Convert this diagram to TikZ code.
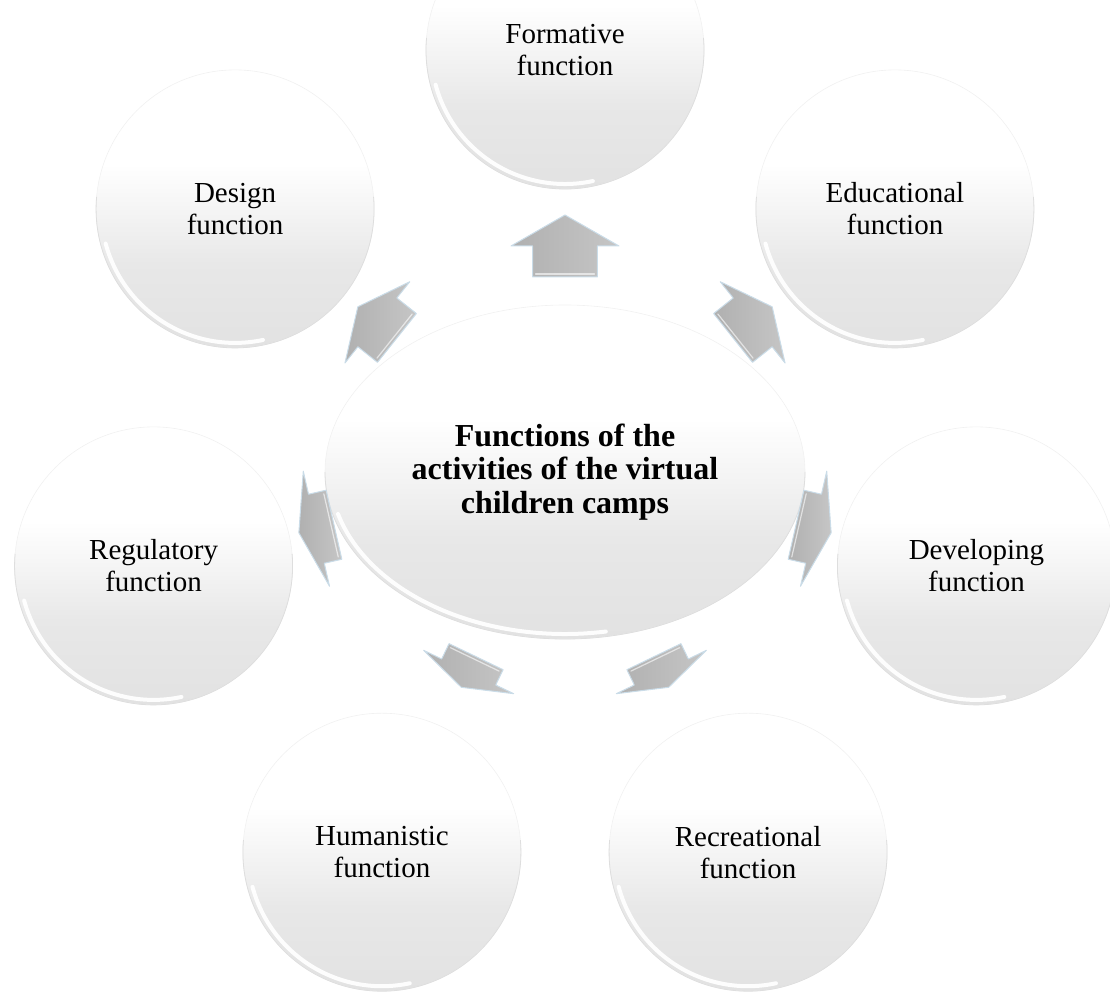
\documentclass[tikz,border=0pt]{standalone}
\usepackage{fontspec}
\setmainfont{Liberation Serif}
\usetikzlibrary{calc,shapes.geometric}
\definecolor{rim}{HTML}{F1F1F1}
\definecolor{rimlow}{HTML}{DEDEDE}
\definecolor{ballgray}{HTML}{E2E2E2}
\definecolor{arrowedge}{HTML}{CADCE8}
\pgfdeclareverticalshading{ballshade}{100bp}{color(0bp)=(ballgray); color(25bp)=(ballgray); color(40bp)=(ballgray!80!white); color(58bp)=(white); color(100bp)=(white)}
\newcommand\radarrow[4]{%
  \begin{scope}[shift={($(c)+(#1:#2)$)}, rotate=#1]
    \draw[blockarrow] ({-#3/2},{-0.3*#4}) -- (0,{-0.3*#4}) -- (0,{-0.5*#4}) -- ({#3/2},0)
      -- (0,{0.5*#4}) -- (0,{0.3*#4}) -- ({-#3/2},{0.3*#4}) -- cycle;
    \draw[bevel] ({-#3/2+3},{-0.3*#4+3}) -- ({-#3/2+3},{0.3*#4-3});
  \end{scope}}
\begin{document}
\begin{tikzpicture}[x=1pt,y=1pt,
  ball/.style={circle, shade, shading=ballshade, draw=rim, line width=0.6pt,
    minimum size=278pt, inner sep=0pt, align=center,
    font=\fontsize{29}{32}\selectfont},
  hub/.style={ellipse, shade, shading=ballshade, draw=rim, line width=0.6pt,
    minimum width=480pt, minimum height=334pt, inner sep=0pt, align=center,
    font=\fontsize{32}{33.5}\selectfont\bfseries},
  shine/.style={white, line width=4pt, line cap=round, opacity=0.95},
  rimline/.style={rimlow, line width=0.8pt},
  bevel/.style={white, line width=1.2pt, opacity=0.6, line cap=round},
  blockarrow/.style={draw=arrowedge, line width=1pt, line join=round,
    left color=gray!62, right color=gray!45}]
\useasboundingbox (0,0) rectangle (1110,996);
\coordinate (c) at (565,524);
\node[ball] (n0) at ($(c)+(90:422)$) {Formative\\function};
\node[ball] (n1) at ($(c)+(38.571:422)$) {Educational\\function};
\node[ball] (n2) at ($(c)+(-12.857:422)$) {Developing\\function};
\node[ball] (n3) at ($(c)+(-64.286:422)$) {Recreational\\function};
\node[ball] (n4) at ($(c)+(-115.714:422)$) {Humanistic\\function};
\node[ball] (n5) at ($(c)+(192.857:422)$) {Regulatory\\function};
\node[ball] (n6) at ($(c)+(141.429:422)$) {Design\\function};
\foreach \k in {0,...,6}{
  \draw[rimline] ($(n\k.center)+(175:139)$) arc[start angle=175, end angle=365, radius=139];
  \draw[shine] ($(n\k.center)+(195:134)$) arc[start angle=195, end angle=282, radius=134];
}
\node[hub] (hub) at (c) {Functions of the\\activities of the virtual\\children camps};
\draw[rimline] ($(hub.center)+(-240,0)$) arc[start angle=180, end angle=360, x radius=240, y radius=167];
\draw[shine] ($(hub.center)+(195:235 and 162)$) arc[start angle=195, end angle=280, x radius=235, y radius=162];
\radarrow{90}{226}{62}{108}
\radarrow{38.571}{240}{50}{104}
\radarrow{141.429}{240}{50}{104}
\radarrow{-12.857}{255}{36}{118}
\radarrow{192.857}{255}{36}{118}
\radarrow{-64.286}{222}{34}{100}
\radarrow{-115.714}{222}{34}{100}
\end{tikzpicture}
\end{document}
